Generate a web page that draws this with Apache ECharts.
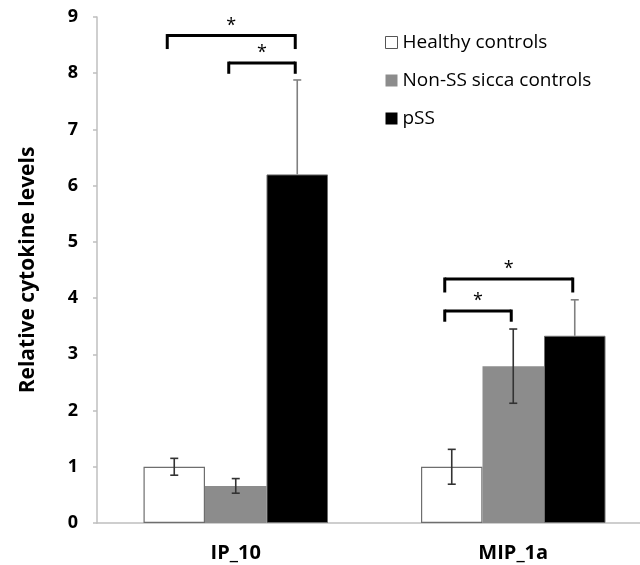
<!DOCTYPE html>
<html><head><meta charset="utf-8">
<script src="https://cdn.jsdelivr.net/npm/echarts@6/dist/echarts.min.js"></script>
<style>html,body{margin:0;padding:0;background:#fff}#c{width:640px;height:565px}</style>
</head><body><div id="c"></div>
<script>
var categories = ['IP_10', 'MIP_1a'];
var groups = ['Healthy controls', 'Non-SS sicca controls', 'pSS'];
var healthy = [1.0, 1.0];
var nonSS = [0.66, 2.79];
var pss = [6.2, 3.33];
// error bars: [lower error, upper error]; 0 lower means only upper bar shown
var healthyErr = [[0.15, 0.15], [0.31, 0.31]];
var nonSSErr = [[0.13, 0.13], [0.66, 0.66]];
var pssErr = [[0, 1.68], [0, 0.64]];
// significance brackets: [category, fromGroup, toGroup, topY, bottomY]
var brackets = [[0, 0, 2, 8.67, 8.43], [0, 1, 2, 8.18, 7.99], [1, 0, 2, 4.34, 4.10], [1, 0, 1, 3.77, 3.58]];
var yTicks = [0, 9, 1];

var BW = 61.5;
var FONT = 'Open Sans';
var chart = echarts.init(document.getElementById('c'));

function errSeries(vals, errs, idx, color) {
  return {
    type: 'custom', z: 5, silent: true,
    data: vals.map(function (v, i) { return [i, v, errs[i][0], errs[i][1]]; }),
    renderItem: function (params, api) {
      var c = api.value(0), v = api.value(1), lo = api.value(2), hi = api.value(3);
      var top = api.coord([c, v + hi]);
      var bot = api.coord([c, v - lo]);
      var x = top[0] + (idx - 1) * BW;
      var st = { stroke: color, lineWidth: 1.6 };
      var ch = [
        { type: 'line', shape: { x1: x, y1: top[1], x2: x, y2: bot[1] }, style: st },
        { type: 'line', shape: { x1: x - 4, y1: top[1], x2: x + 4, y2: top[1] }, style: st }
      ];
      if (lo > 0) ch.push({ type: 'line', shape: { x1: x - 4, y1: bot[1], x2: x + 4, y2: bot[1] }, style: st });
      return { type: 'group', children: ch };
    }
  };
}

var option = {
  animation: false,
  backgroundColor: '#fff',
  grid: { left: 97, top: 17, width: 555, height: 506, outerBoundsMode: 'none', containLabel: false },
  legend: {
    orient: 'vertical', left: 380, top: 27,
    itemWidth: 12, itemHeight: 12, itemGap: 17,
    textStyle: { fontFamily: FONT, fontSize: 19, color: '#000', lineHeight: 21 },
    data: [
      { name: groups[0], icon: 'rect', itemStyle: { color: '#fff', borderColor: '#555', borderWidth: 1 } },
      { name: groups[1], icon: 'rect', itemStyle: { color: '#8c8c8c', borderWidth: 0 } },
      { name: groups[2], icon: 'rect', itemStyle: { color: '#000', borderWidth: 0 } }
    ]
  },
  xAxis: {
    type: 'category', data: categories,
    axisLine: { lineStyle: { color: '#bfbfbf', width: 1.5 } },
    axisTick: { show: false },
    axisLabel: { fontFamily: FONT, fontSize: 20, fontWeight: 'bold', color: '#000', margin: 20 }
  },
  yAxis: {
    type: 'value', min: yTicks[0], max: yTicks[1], interval: yTicks[2],
    name: 'Relative cytokine levels', nameLocation: 'middle', nameGap: 58,
    nameTextStyle: { fontFamily: FONT, fontSize: 21, fontWeight: 'bold', color: '#000' },
    axisLine: { show: true, lineStyle: { color: '#bfbfbf', width: 1.5 } },
    axisTick: { show: true, length: 4, lineStyle: { color: '#bfbfbf', width: 1.5 } },
    splitLine: { show: false },
    axisLabel: { fontFamily: FONT, fontSize: 18, fontWeight: 'bold', color: '#000', margin: 19 }
  },
  series: [
    { name: groups[0], type: 'bar', data: healthy, barWidth: BW, barGap: '0%',
      itemStyle: { color: '#fff', borderColor: '#6e6e6e', borderWidth: 1.2 } },
    { name: groups[1], type: 'bar', data: nonSS, barWidth: BW, barGap: '0%',
      itemStyle: { color: '#8c8c8c', borderColor: '#8c8c8c', borderWidth: 0 } },
    { name: groups[2], type: 'bar', data: pss, barWidth: BW, barGap: '0%',
      itemStyle: { color: '#000', borderColor: '#6e6e6e', borderWidth: 1 } },
    errSeries(healthy, healthyErr, 0, '#333'),
    errSeries(nonSS, nonSSErr, 1, '#333'),
    errSeries(pss, pssErr, 2, '#808080'),
    {
      type: 'custom', z: 6, silent: true, data: brackets,
      renderItem: function (params, api) {
        var c = api.value(0), a = api.value(1), b = api.value(2), yt = api.value(3), yb = api.value(4);
        var p = api.coord([c, yt]), q = api.coord([c, yb]);
        var x1 = p[0] + (a - 1) * BW - 7, x2 = p[0] + (b - 1) * BW - 2;
        var st = { stroke: '#000', lineWidth: 3 };
        return { type: 'group', children: [
          { type: 'line', shape: { x1: x1, y1: p[1], x2: x2, y2: p[1] }, style: st },
          { type: 'line', shape: { x1: x1, y1: p[1] - 1.5, x2: x1, y2: q[1] }, style: st },
          { type: 'line', shape: { x1: x2, y1: p[1] - 1.5, x2: x2, y2: q[1] }, style: st },
          { type: 'text', x: (x1 + x2) / 2, y: p[1] - 1, style: { text: '*', fontFamily: FONT, fontSize: 18, fill: '#000', align: 'center', verticalAlign: 'bottom' } }
        ] };
      }
    }
  ]
};
chart.setOption(option);
</script></body></html>
